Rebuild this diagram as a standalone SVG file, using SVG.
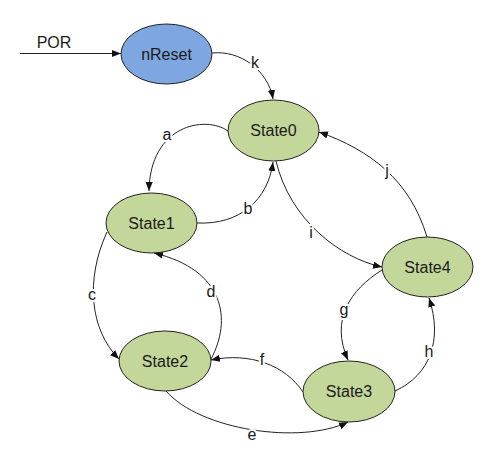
<svg xmlns="http://www.w3.org/2000/svg" width="496" height="466" viewBox="0 0 496 466">
<defs>
<marker id="arr" viewBox="0 0 10 10" refX="10" refY="5" markerWidth="9" markerHeight="9" markerUnits="userSpaceOnUse" orient="auto">
<path d="M0,1 L10,5 L0,9 Z" fill="#111"/>
</marker>
<style>
.st{fill:#c4d79b;stroke:#222;stroke-width:1}
.rs{fill:#7ea6e0;stroke:#222;stroke-width:1}
.t{font-family:"Liberation Sans",Arial,sans-serif;font-size:16px;fill:#1a1a1a;text-anchor:middle;dominant-baseline:central}
.e{fill:none;stroke:#222;stroke-width:1;marker-end:url(#arr)}
.l{font-family:"Liberation Sans",Arial,sans-serif;font-size:16px;fill:#1a1a1a;text-anchor:middle;dominant-baseline:central;stroke:#fff;stroke-width:4;paint-order:stroke}
</style>
</defs>
<rect width="496" height="466" fill="#fff"/>
<g id="connectors">
<path class="e" d="M20,53.5 L121,53.5"/>
<path class="e" d="M212,53 C240,50 268,70 273,99"/>
<path class="e" d="M228,131 C205,115 150,125 149,191"/>
<path class="e" d="M197,223 C240,225 268,200 273,162"/>
<path class="e" d="M276,161 C290,220 340,258 382,267"/>
<path class="e" d="M427,237 C410,180 370,150 319,132"/>
<path class="e" d="M382,270 C350,290 330,320 348,360"/>
<path class="e" d="M395,391 C430,375 443,340 429,298"/>
<path class="e" d="M107,232 C85,280 90,330 119,359"/>
<path class="e" d="M211,359 C232,320 225,270 154,253"/>
<path class="e" d="M303,392 C285,365 250,352 211,360"/>
<path class="e" d="M166,391 C200,430 300,445 348,422"/>
<text class="l" x="255" y="62">k</text>
<text class="l" x="167" y="134">a</text>
<text class="l" x="248" y="208">b</text>
<text class="l" x="311" y="232">i</text>
<text class="l" x="387" y="170">j</text>
<text class="l" x="344" y="309">g</text>
<text class="l" x="429" y="351">h</text>
<text class="l" x="92" y="294">c</text>
<text class="l" x="211" y="291">d</text>
<text class="l" x="262" y="359">f</text>
<text class="l" x="252" y="434">e</text>
</g>
<g id="POR"><text x="54" y="42" class="t">POR</text></g>
<g id="nReset"><ellipse class="rs" cx="166.5" cy="54" rx="45.5" ry="30"/><text class="t" x="166.5" y="54">nReset</text></g>
<g id="State0"><ellipse class="st" cx="273.5" cy="130.5" rx="45.5" ry="30.5"/><text class="t" x="273.5" y="130.5">State0</text></g>
<g id="State1"><ellipse class="st" cx="151.5" cy="223" rx="45.5" ry="30"/><text class="t" x="151.5" y="223">State1</text></g>
<g id="State2"><ellipse class="st" cx="165" cy="361" rx="46" ry="30"/><text class="t" x="165" y="361">State2</text></g>
<g id="State3"><ellipse class="st" cx="349" cy="391.5" rx="46" ry="30.5"/><text class="t" x="349" y="391.5">State3</text></g>
<g id="State4"><ellipse class="st" cx="427.5" cy="267" rx="45.5" ry="30"/><text class="t" x="427.5" y="267">State4</text></g>
</svg>
